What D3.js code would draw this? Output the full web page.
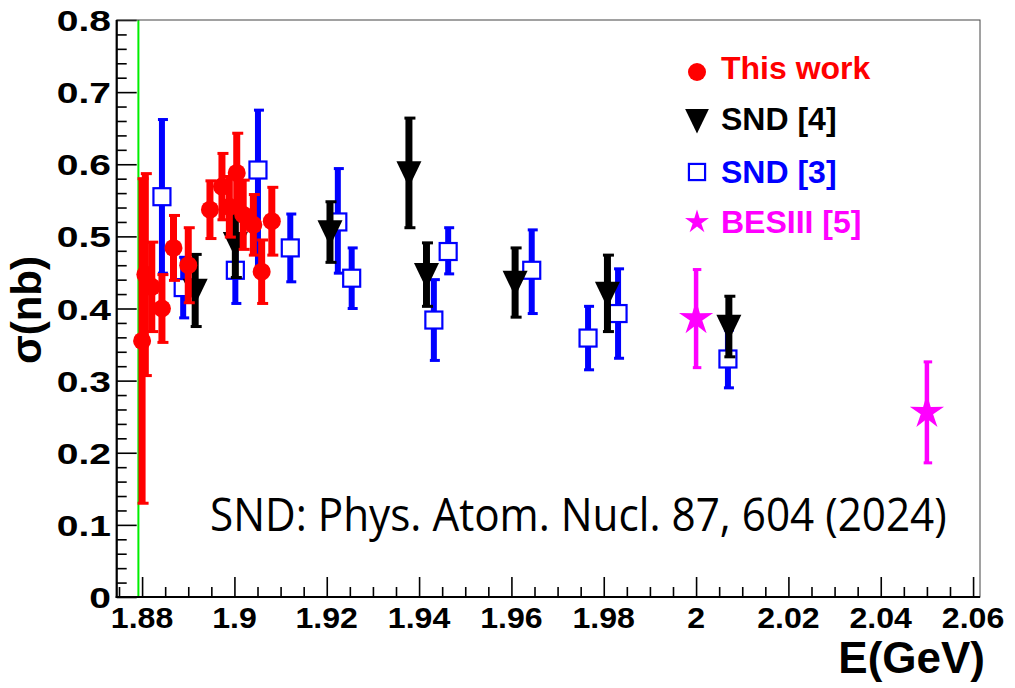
<!DOCTYPE html>
<html>
<head>
<meta charset="utf-8">
<script src="https://cdn.jsdelivr.net/npm/d3@7"></script>
<style>
html,body{margin:0;padding:0;background:#fff;}
svg{display:block;}
</style>
</head>
<body>
<svg id="chart" width="1015" height="688"></svg>
<script>
// ---------------- data ----------------
const thisWorkE     = [1.8800, 1.8807, 1.8821, 1.8843, 1.8868, 1.8900, 1.8947, 1.8973, 1.8989, 1.9005, 1.9019, 1.9041, 1.9059, 1.9081];
const thisWorkSigma = [0.355, 0.447, 0.430, 0.400, 0.484, 0.460, 0.537, 0.569, 0.541, 0.588, 0.530, 0.516, 0.451, 0.521];
const thisWorkErr   = [0.225, 0.140, 0.062, 0.047, 0.045, 0.052, 0.040, 0.046, 0.042, 0.055, 0.048, 0.042, 0.044, 0.047];

const snd4E     = [1.8915, 1.9002, 1.9207, 1.9378, 1.9416, 1.9608, 1.9808, 2.0071];
const snd4Sigma = [0.425, 0.490, 0.506, 0.588, 0.447, 0.436, 0.421, 0.375];
const snd4Err   = [0.050, 0.047, 0.042, 0.076, 0.044, 0.048, 0.053, 0.042];

const snd3E      = [1.8843, 1.8889, 1.9002, 1.9051, 1.9121, 1.9224, 1.9254, 1.9432, 1.9463, 1.9644, 1.9766, 1.9831, 2.0069];
const snd3Sigma  = [0.555, 0.429, 0.453, 0.592, 0.484, 0.520, 0.442, 0.384, 0.479, 0.453, 0.359, 0.393, 0.330];
const snd3ErrLo  = [0.106, 0.042, 0.046, 0.143, 0.047, 0.071, 0.042, 0.056, 0.031, 0.060, 0.044, 0.062, 0.040];
const snd3ErrHi  = [0.107, 0.042, 0.046, 0.083, 0.047, 0.074, 0.042, 0.056, 0.033, 0.056, 0.044, 0.062, 0.040];

const besE     = [2.000, 2.050];
const besSigma = [0.386, 0.256];
const besErr   = [0.068, 0.070];

const xTickLabels = [1.88, 1.90, 1.92, 1.94, 1.96, 1.98, 2.00, 2.02, 2.04, 2.06];
const yTickLabels = [0, 0.1, 0.2, 0.3, 0.4, 0.5, 0.6, 0.7, 0.8];
const thresholdE  = [1.8792];

const legendLabels = ["This work", "SND [4]", "SND [3]", "BESIII [5]"];
const legendColors = ["#ff0000", "#000000", "#0000ff", "#ff00ff"];
const legendShapes = ["circle", "triangle", "square", "star"];
const noteText = "SND: Phys. Atom. Nucl. 87, 604 (2024)";

// ---------------- layout ----------------
const svg = d3.select("#chart");
const L = 116.7, R = 980, T = 20, B = 597;
const x = d3.scaleLinear().domain([1.8745, 2.0615]).range([L, R]);
const y = d3.scaleLinear().domain([0, 0.8]).range([B, T]);

const bold = "'Liberation Sans', Arial, Helvetica, sans-serif";

// threshold green line
svg.selectAll("line.thr").data(thresholdE).enter().append("line")
  .attr("x1", d => x(d)).attr("x2", d => x(d))
  .attr("y1", T).attr("y2", B)
  .attr("stroke", "#00ee00").attr("stroke-width", 2);

// axes (ticks inward)
const minorX = d3.range(1.875, 2.0615, 0.005).filter(v => Math.round(v * 1000) % 20 !== 0);
const minorY = d3.range(0.02, 0.8, 0.02).filter(v => Math.round(v * 100) % 10 !== 0);

const gx = svg.append("g").attr("transform", `translate(0,${B})`);
gx.call(d3.axisBottom(x).tickValues(xTickLabels).tickSize(-20).tickFormat(""));
gx.select(".domain").remove();
const gxm = svg.append("g").attr("transform", `translate(0,${B})`);
gxm.call(d3.axisBottom(x).tickValues(minorX).tickSize(-10).tickFormat(""));
gxm.select(".domain").remove();

const gy = svg.append("g").attr("transform", `translate(${L},0)`);
gy.call(d3.axisLeft(y).tickValues(yTickLabels).tickSize(-20).tickFormat(""));
gy.select(".domain").remove();
const gym = svg.append("g").attr("transform", `translate(${L},0)`);
gym.call(d3.axisLeft(y).tickValues(minorY).tickSize(-10).tickFormat(""));
gym.select(".domain").remove();
svg.selectAll(".tick line").attr("stroke", "#000").attr("stroke-width", 1.6);

// frame
svg.append("rect").attr("x", L).attr("y", T).attr("width", R - L).attr("height", B - T)
  .attr("fill", "none").attr("stroke", "#444").attr("stroke-width", 1);
svg.append("line").attr("x1", L).attr("x2", L).attr("y1", T).attr("y2", B + 1).attr("stroke", "#000").attr("stroke-width", 2.2);
svg.append("line").attr("x1", L - 1).attr("x2", R).attr("y1", B).attr("y2", B).attr("stroke", "#000").attr("stroke-width", 2.2);

// tick labels
svg.selectAll("text.xl").data(xTickLabels).enter().append("text")
  .attr("transform", d => `translate(${x(d)},628) scale(1.07,1)`)
  .attr("text-anchor", "middle").attr("font-family", bold).attr("font-weight", "bold")
  .attr("font-size", 30).attr("fill", "#000")
  .text(d => String(+d.toFixed(2)));

svg.selectAll("text.yl").data(yTickLabels).enter().append("text")
  .attr("transform", d => `translate(111,${y(d) + 11}) scale(1.3,1)`)
  .attr("text-anchor", "end").attr("font-family", bold).attr("font-weight", "bold")
  .attr("font-size", 30).attr("fill", "#000")
  .text(d => d === 0 ? "0" : d.toFixed(1));

// axis titles
svg.append("text").attr("x", 985).attr("y", 673).attr("text-anchor", "end")
  .attr("font-family", bold).attr("font-weight", "bold").attr("font-size", 44).text("E(GeV)");
svg.append("text").attr("transform", "translate(41,310) rotate(-90)").attr("text-anchor", "middle")
  .attr("font-family", bold).attr("font-weight", "bold").attr("font-size", 42).text("σ(nb)");

// ---------------- markers ----------------
function starPath(Ro, Ri) {
  const pts = [];
  for (let i = 0; i < 10; i++) {
    const a = -Math.PI / 2 + i * Math.PI / 5;
    const r = i % 2 === 0 ? Ro : Ri;
    pts.push([r * Math.cos(a), r * Math.sin(a)]);
  }
  return "M" + pts.map(p => p.join(",")).join("L") + "Z";
}
function triPath(w, h) {
  return `M${-w/2},${-h*0.45}L${w/2},${-h*0.45}L0,${h*0.55}Z`;
}
function drawMarker(g, shape, color, scale) {
  const s = scale || 1;
  if (shape === "circle") {
    g.append("circle").attr("r", 9 * s).attr("fill", color);
  } else if (shape === "triangle") {
    g.append("path").attr("d", triPath(25 * s, 26 * s)).attr("fill", color);
  } else if (shape === "square") {
    const a = 17 * s;
    g.append("rect").attr("x", -a/2).attr("y", -a/2).attr("width", a).attr("height", a)
      .attr("fill", "#fff").attr("stroke", color).attr("stroke-width", 2.2);
  } else if (shape === "star") {
    g.append("path").attr("d", starPath(18 * s, 6.5 * s)).attr("fill", color);
  }
}

function drawSeries(E, S, lo, hi, color, shape, bw) {
  const data = E.map((e, i) => ({ e, s: S[i], lo: lo[i], hi: hi[i] }));
  const g = svg.append("g");
  const bars = g.selectAll("g.pt").data(data).enter().append("g");
  bars.append("line")
    .attr("x1", d => x(d.e)).attr("x2", d => x(d.e))
    .attr("y1", d => y(d.s + d.hi)).attr("y2", d => y(d.s - d.lo))
    .attr("stroke", color).attr("stroke-width", bw);
  [d => d.s + d.hi, d => d.s - d.lo].forEach(f => {
    bars.append("rect")
      .attr("x", d => x(d.e) - bw / 2 - 1).attr("width", bw + 4)
      .attr("y", d => y(f(d)) - 1.5).attr("height", 3)
      .attr("fill", color);
  });
  bars.each(function (d) {
    const m = d3.select(this).append("g").attr("transform", `translate(${x(d.e)},${y(d.s)})`);
    drawMarker(m, shape, color);
  });
}

drawSeries(snd3E, snd3Sigma, snd3ErrLo, snd3ErrHi, "#0000ff", "square", 6);
drawSeries(snd4E, snd4Sigma, snd4Err, snd4Err, "#000000", "triangle", 7);
drawSeries(thisWorkE, thisWorkSigma, thisWorkErr, thisWorkErr, "#ff0000", "circle", 7);
drawSeries(besE, besSigma, besErr, besErr, "#ff00ff", "star", 4.5);

// ---------------- legend ----------------
const lg = svg.append("g");
legendLabels.forEach((lab, i) => {
  const cy = [72, 120, 172, 222][i];
  const m = lg.append("g").attr("transform", `translate(697,${cy})`);
  drawMarker(m, legendShapes[i], legendColors[i], [1.0, 0.95, 0.95, 0.7][i]);
  lg.append("text").attr("x", 721).attr("y", [79, 130, 183, 233][i])
    .attr("font-family", bold).attr("font-weight", "bold").attr("font-size", 32)
    .attr("fill", legendColors[i]).text(lab);
});

// ---------------- note ----------------
const note = svg.append("text")
  .attr("font-family", "'Open Sans', 'Noto Sans', sans-serif").attr("font-size", 46)
  .attr("fill", "#000").text(noteText);
const nw = note.node().getComputedTextLength();
note.attr("transform", `translate(210,531) scale(${737 / nw},1)`);
</script>
</body>
</html>
